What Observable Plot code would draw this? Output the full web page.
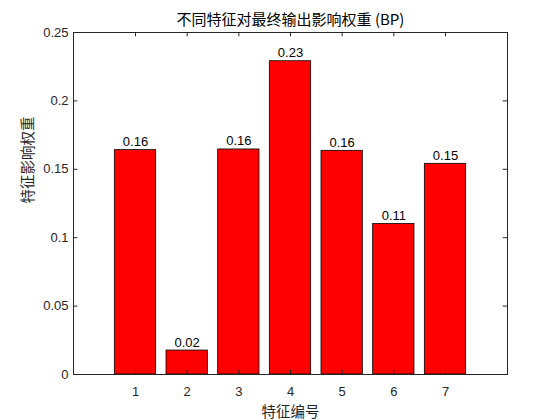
<!DOCTYPE html>
<html>
<head>
<meta charset="utf-8">
<script src="https://cdn.jsdelivr.net/npm/d3@7"></script>
<script src="https://cdn.jsdelivr.net/npm/@observablehq/plot@0.6"></script>
<style>
  html, body { margin: 0; padding: 0; background: #fff; }
</style>
</head>
<body>
<div id="chart"></div>
<script>
const titleText = "不同特征对最终输出影响权重 (BP)";
const xLabelText = "特征编号";
const yLabelText = "特征影响权重";
const features = [1, 2, 3, 4, 5, 6, 7];
const weights = [0.164, 0.0175, 0.1645, 0.229, 0.1635, 0.110, 0.154];
const yTicks = [0, 0.05, 0.1, 0.15, 0.2, 0.25];

const data = features.map((f, i) => ({f, w: weights[i]}));
const W = 560, H = 420, mL = 73, mR = 53, mT = 32, mB = 46;
const fw = W - mL - mR, fh = H - mT - mB, tl = 4.3;
const ink = "#262626";
const sans = "'Liberation Sans', Arial, 'Noto Sans CJK SC', sans-serif";
const cjk = "'Noto Sans CJK SC', 'Liberation Sans', sans-serif";

const chart = Plot.plot({
  width: W, height: H,
  marginLeft: mL, marginRight: mR, marginTop: mT, marginBottom: mB,
  style: {fontFamily: sans, fontSize: "13px", color: ink, background: "#fff"},
  x: {domain: [-0.2, 8.2]},
  y: {domain: [0, 0.25]},
  marks: [
    Plot.rectY(data, {x1: d => d.f - 0.4, x2: d => d.f + 0.4, y: "w", fill: "#ff0000", stroke: "#000", strokeWidth: 0.8}),
    Plot.text(data, {x: "f", y: "w", text: d => d3.format(".2f")(d.w), lineAnchor: "bottom", dy: -4, fill: "#000", fontSize: 13}),
    // inward ticks
    Plot.tickX(features, {x: d => d, insetTop: fh - tl, stroke: ink}),
    Plot.tickX(features, {x: d => d, insetBottom: fh - tl, stroke: ink}),
    Plot.tickY(yTicks, {y: d => d, insetRight: fw - tl, stroke: ink}),
    Plot.tickY(yTicks, {y: d => d, insetLeft: fw - tl, stroke: ink}),
    Plot.axisX({ticks: features, tickSize: 0, tickPadding: 12, label: null, tickFormat: d => String(d), fontSize: 13}),
    Plot.axisY({ticks: yTicks, tickSize: 0, tickPadding: 5, label: null, tickFormat: d => String(d), fontSize: 13}),
    Plot.frame({stroke: ink}),
    Plot.text([titleText], {frameAnchor: "top", lineAnchor: "middle", dy: -12, fontSize: 15, fill: "#000", fontFamily: cjk}),
    Plot.text([xLabelText], {frameAnchor: "bottom", lineAnchor: "middle", dy: 38, fontSize: 14.5, fill: ink, fontFamily: cjk}),
    Plot.text([yLabelText], {frameAnchor: "left", lineAnchor: "middle", dx: -45, rotate: -90, fontSize: 14.5, fill: ink, fontFamily: cjk})
  ]
});
document.getElementById("chart").appendChild(chart);
</script>
</body>
</html>
